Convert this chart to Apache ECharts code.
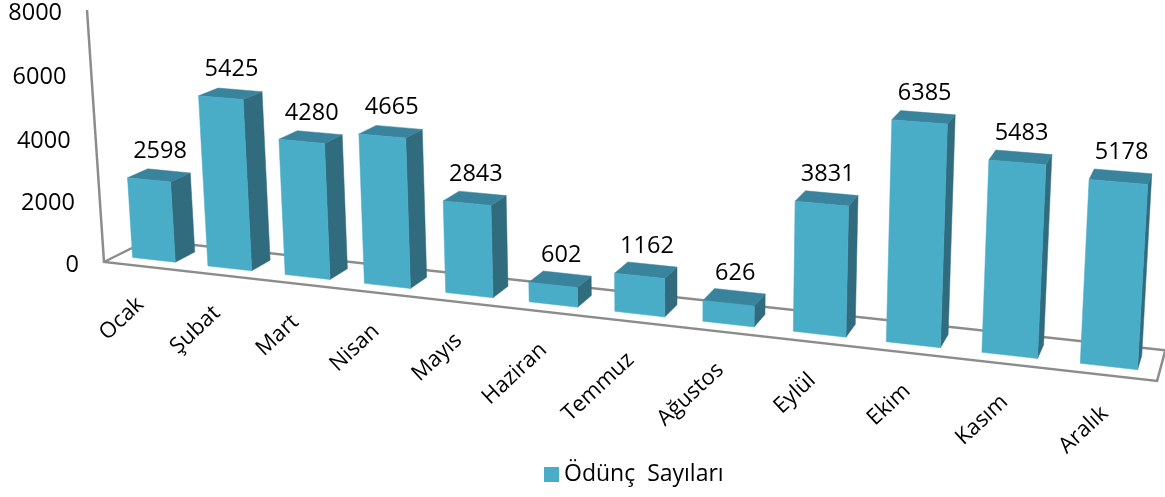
<!DOCTYPE html>
<html>
<head>
<meta charset="utf-8">
<style>html,body{margin:0;background:#fff}#main{width:1165px;height:497px}</style>
<script src="https://cdn.jsdelivr.net/npm/echarts@6/dist/echarts.min.js"></script>
</head>
<body>
<div id="main"></div>
<script>
var categories = ['Ocak', 'Şubat', 'Mart', 'Nisan', 'Mayıs', 'Haziran', 'Temmuz', 'Ağustos', 'Eylül', 'Ekim', 'Kasım', 'Aralık'];
var loans = [2598, 5425, 4280, 4665, 2843, 602, 1162, 626, 3831, 6385, 5483, 5178];
var yTicks = [0, 2000, 4000, 6000, 8000];
var seriesName = 'Ödünç  Sayıları';

var FONT = '"Open Sans", sans-serif';
var GRID = { left: 104, top: 10, width: 1053, height: 252 };

// perspective of the 3D box: u across, h up, d into the floor (all 0..1)
function project(u, h, d) {
  var w = 1 - 0.15 * u - 0.0288 * h + 0.0364 * d;
  return [
    (104 + 879.5 * u - 19.5 * h + 49.4 * d) / w,
    (262 + 61.85 * u - 252.3 * h - 13.26 * d) / w
  ];
}
function toU(px) { return (px - GRID.left) / GRID.width; }
function toH(py) { return (GRID.top + GRID.height - py) / GRID.height; }

function poly(points, fill) {
  return { type: 'polygon', shape: { points: points }, style: { fill: fill, stroke: fill, lineWidth: 0.5 } };
}

function renderBar(params, api) {
  var i = api.value(0);
  var top = api.coord([i, api.value(1)]);
  var u = toU(top[0]);
  var h = toH(top[1]);
  var hw = 0.57 * api.size([1, 0])[0] / GRID.width / 2;
  var d0 = 0.28, d1 = 0.74;
  var u0 = u - hw, u1 = u + hw;

  var fbl = project(u0, 0, d0), fbr = project(u1, 0, d0);
  var ftl = project(u0, h, d0), ftr = project(u1, h, d0);
  var bbr = project(u1, 0, d1), btr = project(u1, h, d1), btl = project(u0, h, d1);
  var mid = project(u, h, (d0 + d1) / 2);
  var foot = project(u, 0, 0);

  return {
    type: 'group',
    children: [
      poly([fbr, ftr, btr, bbr], '#316b7e'),
      poly([ftl, btl, btr, ftr], '#39849c'),
      poly([fbl, ftl, ftr, fbr], '#49adc8'),
      {
        type: 'text', x: mid[0] + 1, y: mid[1] - 24,
        style: { text: String(api.value(1)), fill: '#000', font: '23.5px ' + FONT, align: 'center', verticalAlign: 'middle' }
      },
      {
        type: 'text', x: foot[0] - 1, y: foot[1] + 35, rotation: 43 * Math.PI / 180,
        style: { text: categories[i], fill: '#000', font: '22px ' + FONT, align: 'right', verticalAlign: 'middle' }
      }
    ]
  };
}

function renderFrame() {
  var o = project(0, 0, 0), up = project(0, 1, 0), r = project(1, 0, 0);
  var b = project(0, 0, 1), br = project(1, 0, 1);
  var st = { stroke: '#8c8c8c', lineWidth: 2.5, fill: null };
  return {
    type: 'group',
    children: [
      { type: 'polyline', shape: { points: [up, o, r, br, b, o] }, style: st }
    ]
  };
}

function renderTick(params, api) {
  var p = api.coord([0, api.value(0)]);
  var pos = project(0, toH(p[1]), 0);
  return {
    type: 'text', x: pos[0] - 25, y: pos[1] + 3,
    style: { text: String(api.value(0)), fill: '#000', font: '23.5px ' + FONT, align: 'right', verticalAlign: 'middle' }
  };
}

var myChart = echarts.init(document.getElementById('main'));

var option = {
  animation: false,
  grid: GRID,
  xAxis: { type: 'category', data: categories, show: false },
  yAxis: { type: 'value', min: 0, max: 8000, interval: 2000, show: false },
  legend: {
    left: 539, top: 458,
    data: [seriesName],
    icon: 'rect', itemWidth: 15, itemHeight: 15, itemGap: 7,
    textStyle: { fontFamily: FONT, fontSize: 23, color: '#000' }
  },
  series: [
    { type: 'custom', name: 'frame', z: 1, silent: true, data: [0], renderItem: renderFrame },
    { type: 'custom', name: 'ticks', z: 1, silent: true, encode: { y: 0 }, data: yTicks.map(function (t) { return [t]; }), renderItem: renderTick },
    {
      type: 'custom', name: seriesName, z: 2,
      itemStyle: { color: '#49adc8' },
      encode: { x: 0, y: 1 },
      data: loans.map(function (v, i) { return [i, v]; }),
      renderItem: renderBar
    }
  ]
};

myChart.setOption(option);
</script>
</body>
</html>
